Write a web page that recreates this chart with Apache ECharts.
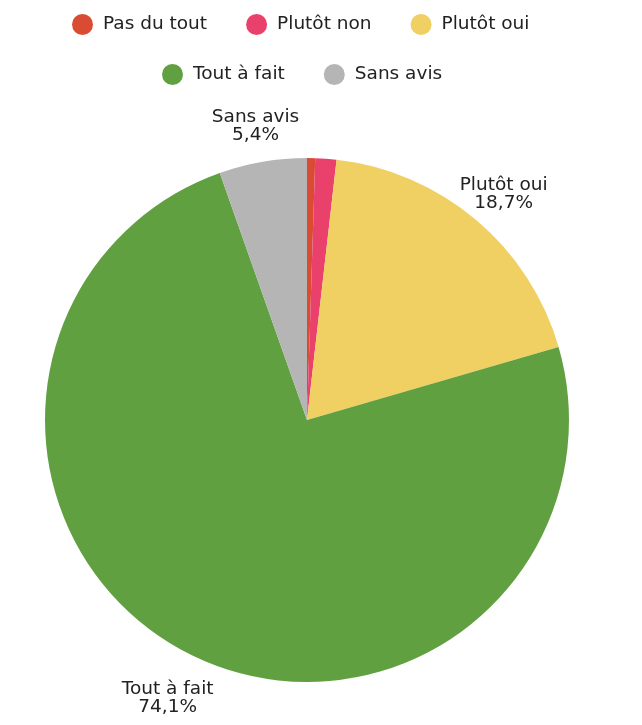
<!DOCTYPE html>
<html>
<head>
<meta charset="utf-8">
<script src="https://cdn.jsdelivr.net/npm/echarts@6/dist/echarts.min.js"></script>
<style>
  html, body { margin: 0; padding: 0; background: #fff; }
  #pie { width: 642px; height: 725px; }
</style>
</head>
<body>
<div id="pie"></div>
<script>
// données
const categories = ['Pas du tout', 'Plutôt non', 'Plutôt oui', 'Tout à fait', 'Sans avis']
const values = [0.5, 1.3, 18.7, 74.1, 5.4]
const colors = ['#d94b33', '#ea416c', '#f0d062', '#61a041', '#b5b5b5']

const myChart = echarts.init(document.querySelector('#pie'))

const font = '"DejaVu Sans", sans-serif'

function legendBlock (names, left, top) {
  return {
    data: names,
    top: top,
    left: left,
    icon: 'circle',
    itemWidth: 21,
    itemHeight: 21,
    itemGap: 39,
    textStyle: { fontSize: 18.5, color: '#222', fontFamily: font, padding: [0, 0, 0, 5] }
  }
}

const option = {
  color: colors,
  legend: [
    legendBlock(categories.slice(0, 3), 67, 9),
    legendBlock(categories.slice(3), 157, 59)
  ],
  series: [
    {
      type: 'pie',
      center: [307, 420],
      radius: 262,
      startAngle: 90,
      clockwise: true,
      label: { show: false },
      labelLine: { show: false },
      data: categories.map((n, i) => ({ name: n, value: values[i] }))
    },
    // anneau invisible juste pour placer les étiquettes centrées
    {
      type: 'pie',
      center: [307, 420],
      radius: [285, 319],
      startAngle: 90,
      clockwise: true,
      silent: true,
      itemStyle: { color: 'rgba(0,0,0,0)' },
      label: {
        show: true,
        position: 'inside',
        offset: [0, 7],
        color: '#222',
        fontSize: 18.5,
        lineHeight: 18,
        fontFamily: font,
        formatter: p => p.name + '\n' + p.value.toFixed(1).replace('.', ',') + '%'
      },
      labelLine: { show: false },
      data: categories.map((n, i) => ({
        name: n,
        value: values[i],
        label: { show: values[i] >= 5 }
      }))
    }
  ]
}

myChart.setOption(option)
</script>
</body>
</html>
